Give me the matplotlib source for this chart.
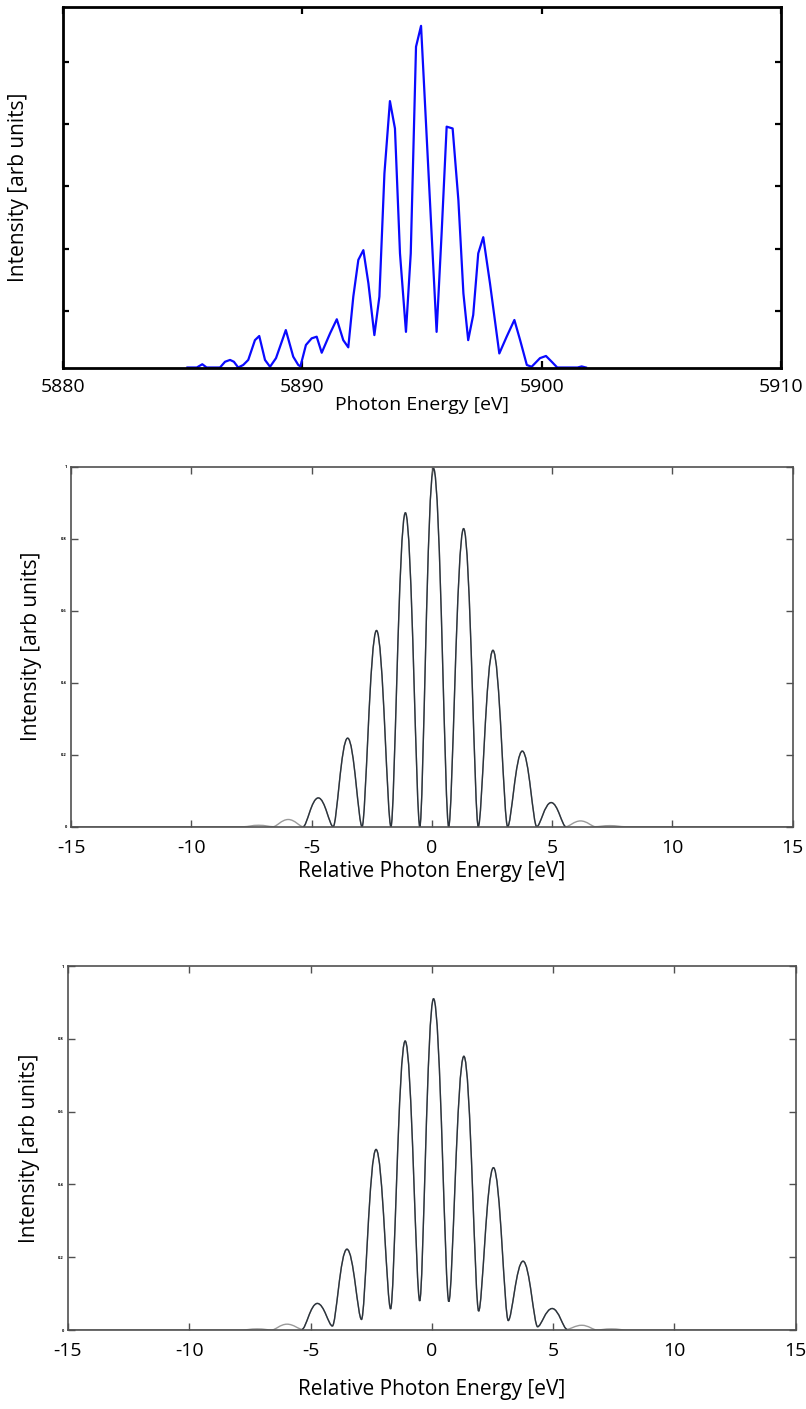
import matplotlib
matplotlib.use("Agg")
import matplotlib.pyplot as plt
from matplotlib.path import Path
from matplotlib.patches import PathPatch

plt.rcParams['font.family'] = ['Open Sans', 'DejaVu Sans']

# measured spectrum (top panel), energy in eV, intensity in arb. units
meas_energy = [5885.20, 5885.59, 5885.82, 5886.00, 5886.56, 5886.77, 5886.98, 5887.14,
               5887.32, 5887.53, 5887.74, 5888.02, 5888.20, 5888.44, 5888.65, 5888.90,
               5889.31, 5889.62, 5889.83, 5889.92, 5890.15, 5890.39, 5890.60, 5890.81,
               5891.16, 5891.44, 5891.71, 5891.92, 5892.13, 5892.34, 5892.55, 5892.76,
               5893.01, 5893.22, 5893.43, 5893.66, 5893.87, 5894.08, 5894.33, 5894.53,
               5894.75, 5894.96, 5895.33, 5895.61, 5895.82, 5896.03, 5896.28, 5896.52,
               5896.73, 5896.93, 5897.14, 5897.35, 5897.56, 5897.84, 5898.23, 5898.54,
               5898.86, 5899.10, 5899.38, 5899.58, 5899.93, 5900.18, 5900.42, 5900.65,
               5901.50, 5901.67, 5901.85]
meas_intensity = [0.0, 0.0, 0.009, 0.0, 0.0, 0.016, 0.021, 0.016,
                  0.0, 0.007, 0.021, 0.076, 0.0875, 0.021, 0.002, 0.026,
                  0.104, 0.030, 0.007, 0.003, 0.0625, 0.081, 0.0856, 0.041,
                  0.095, 0.134, 0.076, 0.056, 0.197, 0.299, 0.326, 0.234,
                  0.090, 0.197, 0.539, 0.740, 0.664, 0.317, 0.099, 0.317,
                  0.891, 0.949, 0.465, 0.099, 0.373, 0.669, 0.664, 0.465,
                  0.206, 0.076, 0.146, 0.317, 0.362, 0.234, 0.039, 0.086,
                  0.132, 0.076, 0.007, 0.002, 0.026, 0.032, 0.016, 0.0,
                  0.0, 0.003, 0.0]
meas_yticks = [0.157, 0.330, 0.503, 0.676, 0.849]

# simulated spectra (middle, bottom): lobe maxima and minima positions
peak_e = [-7.2, -5.97, -4.72, -3.5, -2.3, -1.1, 0.07, 1.32, 2.54, 3.76, 4.96, 6.18, 7.4]
valley_e = [-6.6, -5.35, -4.1, -2.9, -1.7, -0.5, 0.7, 1.93, 3.15, 4.36, 5.57, 6.8]
tail_e = [-15.0, -7.8, 8.0, 15.0]

mid_peaks = [0.004, 0.02, 0.08, 0.246, 0.545, 0.872, 0.995, 0.828, 0.49, 0.21, 0.067, 0.016, 0.003]
mid_valleys = [0.0] * 12

bot_peaks = [0.003, 0.016, 0.073, 0.222, 0.496, 0.794, 0.91, 0.752, 0.446, 0.189, 0.059, 0.013, 0.003]
bot_valleys = [0.0, 0.002, 0.011, 0.029, 0.058, 0.08, 0.078, 0.052, 0.026, 0.009, 0.002, 0.0]

rel_ticks = [-15, -10, -5, 0, 5, 10, 15]
int_ticks = [0, 0.2, 0.4, 0.6, 0.8, 1]
int_ticklabels = ['0', '0.2', '0.4', '0.6', '0.8', '1']

W, H = 806, 1409


def px_axes(fig, left, right, top, bottom):
    return fig.add_axes([left / W, (H - bottom) / H, (right - left) / W, (bottom - top) / H])


def extrema(peaks, valleys):
    xs = [tail_e[0], tail_e[1]]
    ys = [0.0, 0.0]
    for i, p in enumerate(peak_e):
        xs.append(p)
        ys.append(peaks[i])
        if i < len(valley_e):
            xs.append(valley_e[i])
            ys.append(valleys[i])
    xs += [tail_e[2], tail_e[3]]
    ys += [0.0, 0.0]
    return xs, ys


def smooth_path(xs, ys, kp=0.45, kv=0.25):
    # bezier segments with flat tangents at every max / min
    verts = [(xs[0], ys[0])]
    codes = [Path.MOVETO]
    for i in range(len(xs) - 1):
        x0, y0, x1, y1 = xs[i], ys[i], xs[i + 1], ys[i + 1]
        dx = x1 - x0
        k0 = kp if y0 > y1 else kv
        k1 = kp if y1 > y0 else kv
        verts += [(x0 + k0 * dx, y0), (x1 - k1 * dx, y1), (x1, y1)]
        codes += [Path.CURVE4] * 3
    return Path(verts, codes)


def sim_panel(ax, peaks, valleys):
    xs, ys = extrema(peaks, valleys)
    ax.add_patch(PathPatch(smooth_path(xs, ys), fill=False, ec='#9a9a9a', lw=1.0))
    # central part drawn dark, from the valley at -5.35 to the one at 5.57
    i0 = xs.index(valley_e[1])
    i1 = xs.index(valley_e[-2])
    ax.add_patch(PathPatch(smooth_path(xs[i0:i1 + 1], ys[i0:i1 + 1]), fill=False,
                           ec='#2b333c', lw=1.0))
    ax.set_xlim(-15, 15)
    ax.set_ylim(0, 1)
    ax.set_xticks(rel_ticks)
    ax.set_xticklabels([str(t) for t in rel_ticks])
    ax.set_yticks(int_ticks)
    ax.set_yticklabels(int_ticklabels, fontsize=3, fontweight='bold')
    ax.tick_params(axis='x', direction='in', top=True, length=5, width=1.0,
                   color='#505050', labelsize=14, pad=9)
    ax.tick_params(axis='y', direction='in', right=True, length=5, width=1.0,
                   color='#505050', pad=3)
    for s in ax.spines.values():
        s.set_color('#505050')
        s.set_linewidth(1.2)
    ax.set_xlabel('Relative Photon Energy [eV]', fontsize=15)
    ax.set_ylabel('Intensity [arb units]', fontsize=15)


fig = plt.figure(figsize=(W / 100, H / 100), dpi=100)

ax1 = px_axes(fig, 63, 781, 7.5, 367.5)
ax1.plot(meas_energy, meas_intensity, color='#0a0aff', lw=1.6)
ax1.set_xlim(5880, 5910)
ax1.set_ylim(0, 1)
ax1.set_xticks([5880, 5890, 5900, 5910])
ax1.set_yticks(meas_yticks)
ax1.set_yticklabels([])
ax1.tick_params(axis='x', direction='in', top=True, length=5, width=1.6, labelsize=14, pad=7.5)
ax1.tick_params(axis='y', direction='in', right=True, length=4, width=1.6)
for s in ax1.spines.values():
    s.set_linewidth(2.0)
ax1.set_xlabel('Photon Energy [eV]', fontsize=14)
ax1.set_ylabel('Intensity [arb units]', fontsize=15)
ax1.xaxis.set_label_coords(0.5, -0.08)
ax1.yaxis.set_label_coords(-0.047, 0.5)

ax2 = px_axes(fig, 71, 792.7, 466.7, 826.7)
sim_panel(ax2, mid_peaks, mid_valleys)
ax2.xaxis.set_label_coords(0.5, -0.095)
ax2.yaxis.set_label_coords(-0.040, 0.5)

ax3 = px_axes(fig, 68, 795.7, 966, 1330)
sim_panel(ax3, bot_peaks, bot_valleys)
ax3.xaxis.set_label_coords(0.5, -0.135)
ax3.yaxis.set_label_coords(-0.0385, 0.5)

fig.savefig('out.png', dpi=100)
